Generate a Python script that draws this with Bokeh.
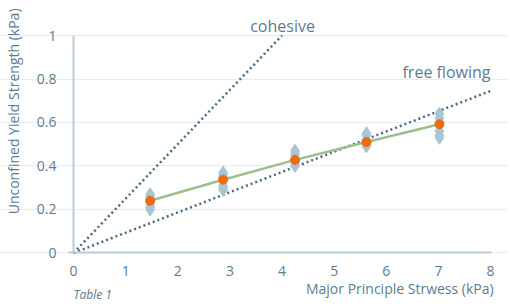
from bokeh.plotting import figure
from bokeh.models import Label, FixedTicker
from bokeh.embed import file_html
from bokeh.resources import INLINE

# Data
stress_x = [1.47, 2.87, 4.25, 5.62, 7.02]
samples = [
    [0.27, 0.26, 0.25, 0.22, 0.21, 0.20],
    [0.37, 0.36, 0.35, 0.31, 0.30, 0.29],
    [0.47, 0.46, 0.45, 0.42, 0.41, 0.40],
    [0.55, 0.54, 0.52, 0.51, 0.49, 0.50],
    [0.64, 0.62, 0.60, 0.56, 0.54, 0.53],
]
mean_y = [0.240, 0.337, 0.428, 0.510, 0.592]
cohesive_x = [0, 4]
cohesive_y = [0, 1]
free_x = [0, 8]
free_y = [0, 0.745]
x_ticks = [0, 1, 2, 3, 4, 5, 6, 7, 8]
y_ticks = [0, 0.2, 0.4, 0.6, 0.8, 1]

FONT = "Open Sans"
TXT = "#5d7b91"

px, py = [], []
for xv, ys in zip(stress_x, samples):
    for yv in ys:
        px.append(xv)
        py.append(yv)

p = figure(width=508, height=304, output_backend="svg", toolbar_location=None,
           x_range=(-1.4005, 8.345), y_range=(-0.237, 1.161),
           min_border=0)
p.outline_line_color = None
p.background_fill_color = "white"

p.xaxis.ticker = FixedTicker(ticks=x_ticks)
p.yaxis.ticker = FixedTicker(ticks=y_ticks)
p.xaxis.fixed_location = 0
p.yaxis.fixed_location = 0
p.xaxis.bounds = (-0.1, 8.02)
p.yaxis.bounds = (0, 1)
p.yaxis.major_label_overrides = {0: "0", 1: "1"}
for ax in (p.xaxis, p.yaxis):
    ax.axis_line_color = "#b9ccd8"
    ax.axis_line_width = 2
    ax.major_tick_line_color = None
    ax.minor_tick_line_color = None
    ax.major_label_text_color = TXT
    ax.major_label_text_font = FONT
    ax.major_label_text_font_size = "14px"
p.xaxis.major_label_standoff = 7
p.yaxis.major_label_standoff = 11
p.xgrid.grid_line_color = None
p.ygrid.grid_line_color = "#e6edf2"
p.ygrid.grid_line_width = 1
p.ygrid.bounds = (0, 8)

# reference lines
p.line(cohesive_x, cohesive_y, line_color="#4b6a80", line_width=2.5, line_dash="2 3")
p.line(free_x, free_y, line_color="#4b6a80", line_width=2.5, line_dash="2 3")

# samples
p.scatter(px, py, marker="diamond", size=13, fill_color="#a9c4d4", line_color="#a9c4d4")
# mean line
p.line(stress_x, mean_y, line_color="#9dc08b", line_width=2.5)
p.scatter(stress_x, mean_y, marker="circle", size=9, fill_color="#f06a0f", line_color="#f06a0f")

def lab(x, y, t, align="center", size="16px", style="normal", angle=0, baseline="middle"):
    p.add_layout(Label(x=x, y=y, text=t, text_align=align, text_baseline=baseline,
                       text_font=FONT, text_font_size=size, text_color=TXT,
                       text_font_style=style, angle=angle))

lab(4.01, 1.046, "cohesive")
lab(8.0, 0.83, "free flowing", align="right")
lab(8.06, -0.163, "Major Principle Strwess (kPa)", align="right", size="14px")
lab(0.0, -0.193, "Table 1", align="left", size="12px", style="italic")
lab(-1.151, 0.651, "Unconfined Yield Strength (kPa)", size="14px", angle=1.5708)

open("out.html", "w").write(file_html(p, INLINE))
